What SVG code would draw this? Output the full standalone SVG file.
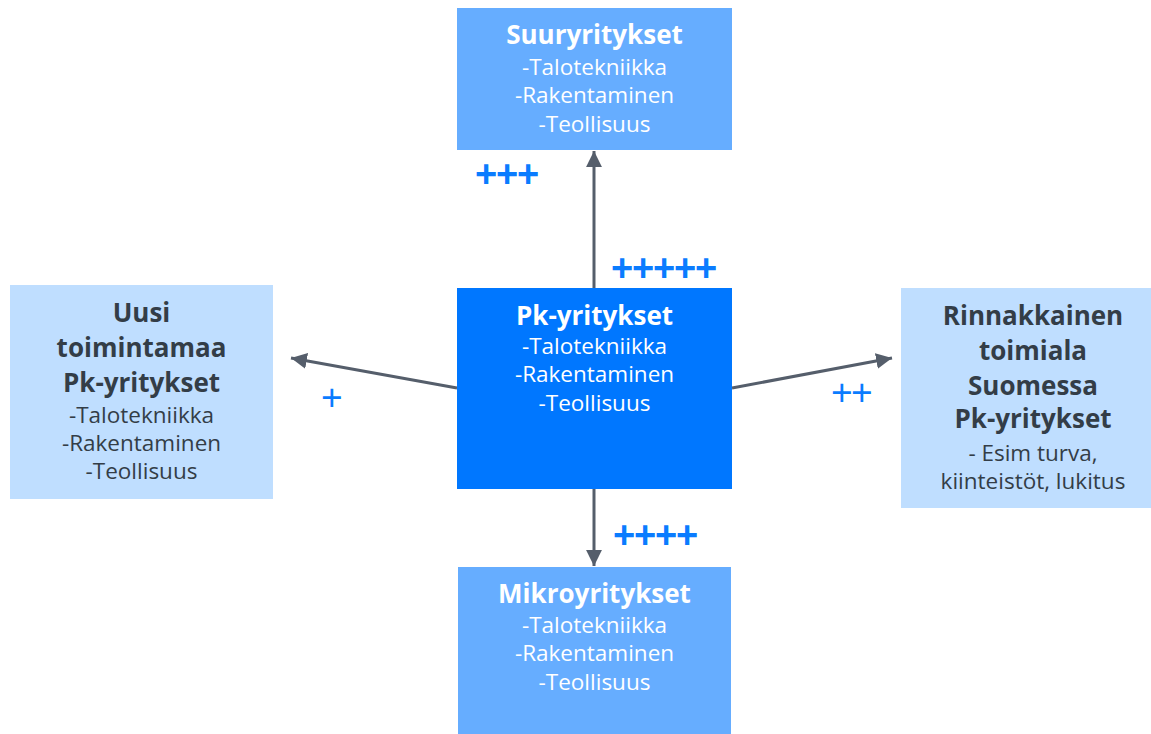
<svg xmlns="http://www.w3.org/2000/svg" width="1151" height="734" viewBox="0 0 1151 734">
<style>
.t{font-family:"Open Sans","Liberation Sans",sans-serif;text-anchor:middle}
.b{font-weight:700;font-size:26px}
.r{font-weight:400;font-size:22.5px}
.w{fill:#ffffff}
.d{fill:#333d47}
.p{font-family:"Liberation Sans",Arial,sans-serif;fill:#0a7cff}
.conn{stroke:#555e6b;stroke-width:3;fill:none}
</style>
<defs>
<marker id="ah" viewBox="0 0 10 10" refX="10" refY="5" markerWidth="5.3" markerHeight="5.3" markerUnits="strokeWidth" orient="auto">
<path d="M0,0 L10,5 L0,10 z" fill="#555e6b"/>
</marker>
</defs>
<g id="connectors">
<line class="conn" x1="594" y1="288" x2="594" y2="151" marker-end="url(#ah)"/>
<line class="conn" x1="594" y1="489" x2="594" y2="566" marker-end="url(#ah)"/>
<line class="conn" x1="457" y1="388" x2="291" y2="358" marker-end="url(#ah)"/>
<line class="conn" x1="732" y1="388" x2="892" y2="358" marker-end="url(#ah)"/>
</g>
<g id="node-suuryritykset">
<rect x="457" y="8" width="275" height="142" fill="#66adff"/>
<text class="t b w" x="594.5" y="44">Suuryritykset</text>
<text class="t r w" x="594.5" y="75">-Talotekniikka</text>
<text class="t r w" x="594.5" y="103">-Rakentaminen</text>
<text class="t r w" x="594.5" y="132">-Teollisuus</text>
</g>
<g id="node-pk">
<rect x="457" y="288" width="275" height="201" fill="#0077ff"/>
<text class="t b w" x="594.5" y="325">Pk-yritykset</text>
<text class="t r w" x="594.5" y="354">-Talotekniikka</text>
<text class="t r w" x="594.5" y="382">-Rakentaminen</text>
<text class="t r w" x="594.5" y="411">-Teollisuus</text>
</g>
<g id="node-mikro">
<rect x="458" y="567" width="273" height="167" fill="#66adff"/>
<text class="t b w" x="594.5" y="603">Mikroyritykset</text>
<text class="t r w" x="594.5" y="633">-Talotekniikka</text>
<text class="t r w" x="594.5" y="661">-Rakentaminen</text>
<text class="t r w" x="594.5" y="690">-Teollisuus</text>
</g>
<g id="node-uusi">
<rect x="10" y="285" width="263" height="214" fill="#bfdeff"/>
<text class="t b d" x="141.5" y="322">Uusi</text>
<text class="t b d" x="141.5" y="357">toimintamaa</text>
<text class="t b d" x="141.5" y="392">Pk-yritykset</text>
<text class="t r d" x="141.5" y="423">-Talotekniikka</text>
<text class="t r d" x="141.5" y="451">-Rakentaminen</text>
<text class="t r d" x="141.5" y="479">-Teollisuus</text>
</g>
<g id="node-rinnakkainen">
<rect x="901" y="288" width="250" height="220" fill="#bfdeff"/>
<text class="t b d" x="1033" y="325">Rinnakkainen</text>
<text class="t b d" x="1033" y="360">toimiala</text>
<text class="t b d" x="1033" y="395">Suomessa</text>
<text class="t b d" x="1033" y="428">Pk-yritykset</text>
<text class="t r d" x="1033" y="461">- Esim turva,</text>
<text class="t r d" x="1033" y="489">kiinteistöt, lukitus</text>
</g>
<g id="labels">
<text class="p" x="475" y="187" font-size="38" font-weight="700" letter-spacing="-1.2">+++</text>
<text class="p" x="611" y="281" font-size="38" font-weight="700" letter-spacing="-1.2">+++++</text>
<text class="p" x="613" y="548" font-size="38" font-weight="700" letter-spacing="-1.2">++++</text>
<text class="p" x="321" y="410" font-size="37">+</text>
<text class="p" x="831" y="405" font-size="37" letter-spacing="-1.6">++</text>
</g>
</svg>
